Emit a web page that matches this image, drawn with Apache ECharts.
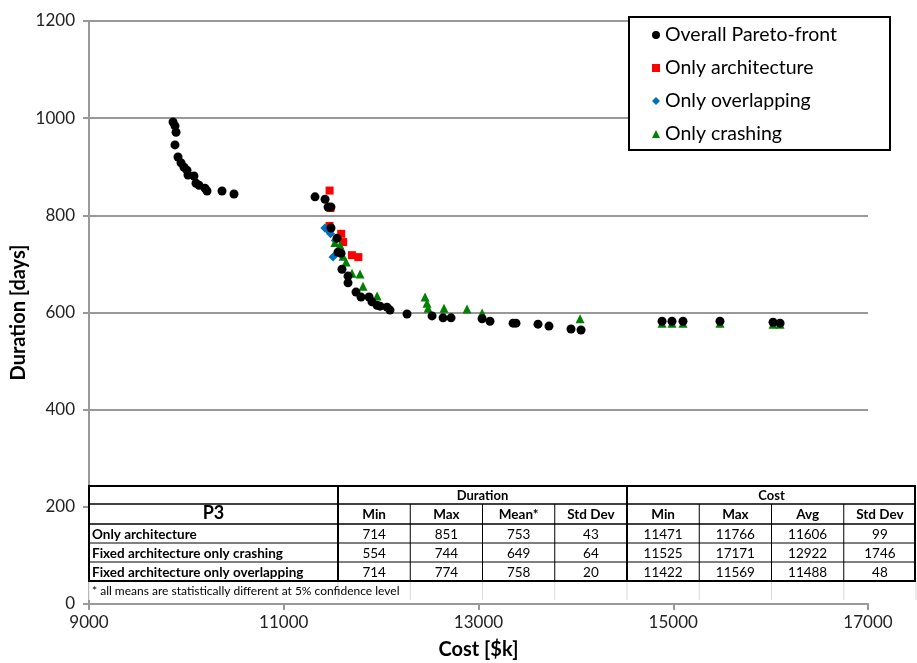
<!DOCTYPE html>
<html>
<head>
<meta charset="utf-8">
<script src="https://cdn.jsdelivr.net/npm/echarts@6/dist/echarts.min.js"></script>
<style>
html,body{margin:0;padding:0;background:#fff;}
#chart{width:917px;height:663px;}
</style>
</head>
<body>
<div id="chart"></div>
<script>
// ---- Data: [cost $k, duration days] ----
const paretoFront = [
  [9863,992],[9883,984],[9894,971],[9883,945],[9914,920],[9945,908],[9976,899],[10006,893],
  [10017,883],[10078,881],[10099,866],[10130,862],[10191,856],[10212,850],[10366,850],[10489,844],
  [11321,838],[11424,833],[11455,817],[11485,817],[11485,774],[11547,753],[11557,724],[11588,722],
  [11598,689],[11660,675],[11660,661],[11742,642],[11793,632],[11876,632],[11906,622],[11958,615],
  [11989,613],[12060,611],[12091,605],[12266,597],[12523,593],[12636,589],[12718,589],[13037,587],
  [13118,582],[13355,578],[13385,578],[13611,576],[13724,572],[13950,566],[14053,564],
  [14885,582],[14987,582],[15100,582],[15480,582],[16025,580],[16097,578]
];
const onlyArchitecture = [
  [11471,851],[11480,815],[11470,778],[11590,762],[11610,745],[11700,718],[11766,714]
];
const onlyOverlapping = [
  [11422,774],[11450,770],[11480,762],[11530,748],[11506,714]
];
const onlyCrashing = [
  [11525,744],[11578,739],[11609,716],[11640,704],[11701,681],[11783,679],[11814,654],[11958,634],
  [12451,632],[12471,619],[12482,609],[12646,609],[12882,607],[13037,599],[14043,587],
  [14885,578],[14987,578],[15100,578],[15480,578],[16025,576],[16097,576]
];
const seriesNames = ['Overall Pareto-front','Only architecture','Only overlapping','Only crashing'];

// ---- Table content ----
const tableTitle = 'P3';
const groupHeaders = ['Duration','Cost'];
const subHeaders = ['Min','Max','Mean*','Std Dev','Min','Max','Avg','Std Dev'];
const rowLabels = ['Only architecture','Fixed architecture only crashing','Fixed architecture only overlapping'];
const rowOnlyArchitecture = ['714','851','753','43','11471','11766','11606','99'];
const rowOnlyCrashing = ['554','744','649','64','11525','17171','12922','1746'];
const rowOnlyOverlapping = ['714','774','758','20','11422','11569','11488','48'];
const footnote = '* all means are statistically different at 5% confidence level';

const FONT = "Lato, 'Liberation Sans', sans-serif";
const chart = echarts.init(document.getElementById('chart'));

// Table graphics
const T = {x0:89, x1:915, colSplit:338, colW:72.25, yTop:486, yH1:504, yH2:524, rowH:19};
const tableRows = [rowOnlyArchitecture, rowOnlyCrashing, rowOnlyOverlapping];
const g = [];
const Z = 20;
const yBody = T.yH2 + tableRows.length*T.rowH; // 581
const yFoot = yBody + T.rowH; // 600
g.push({type:'rect', z:Z, shape:{x:T.x0, y:T.yTop, width:T.x1-T.x0, height:yFoot-T.yTop}, style:{fill:'#fff', stroke:null}});
for (let i=0;i<=subHeaders.length;i++){
  const x = T.colSplit + i*T.colW;
  g.push({type:'line', z:Z+1, shape:{x1:x,y1:yBody,x2:x,y2:yFoot}, style:{stroke:'#d9d9d9', lineWidth:1}});
}
g.push({type:'line', z:Z+1, shape:{x1:T.x0,y1:yBody,x2:T.x0,y2:yFoot}, style:{stroke:'#d9d9d9', lineWidth:1}});
g.push({type:'line', z:Z+2, shape:{x1:T.x0,y1:T.yH1,x2:T.x1,y2:T.yH1}, style:{stroke:'#000', lineWidth:1.5}});
g.push({type:'line', z:Z+2, shape:{x1:T.x0,y1:T.yH2,x2:T.x1,y2:T.yH2}, style:{stroke:'#000', lineWidth:1.5}});
for (let r=1;r<tableRows.length;r++){
  const y = T.yH2 + r*T.rowH;
  g.push({type:'line', z:Z+2, shape:{x1:T.x0,y1:y,x2:T.x1,y2:y}, style:{stroke:'#000', lineWidth:1}});
}
for (let i=1;i<subHeaders.length;i++){
  const x = T.colSplit + i*T.colW;
  const thick = (i===4);
  g.push({type:'line', z:Z+2, shape:{x1:x,y1:thick?T.yTop:T.yH1,x2:x,y2:yBody}, style:{stroke:'#000', lineWidth:thick?2:1}});
}
g.push({type:'line', z:Z+2, shape:{x1:T.colSplit,y1:T.yTop,x2:T.colSplit,y2:yBody}, style:{stroke:'#000', lineWidth:2}});
g.push({type:'rect', z:Z+3, shape:{x:T.x0, y:T.yTop, width:T.x1-T.x0, height:yBody-T.yTop}, style:{fill:null, stroke:'#000', lineWidth:2}});
const txt = (s,x,y,opt) => g.push({type:'text', z:Z+4, x:x, y:y, style:Object.assign({text:s, fill:'#000', font:'13.5px '+FONT, align:'center', verticalAlign:'middle'}, opt||{})});
txt(groupHeaders[0], T.colSplit+2*T.colW, (T.yTop+T.yH1)/2+1, {font:'bold 13px '+FONT});
txt(groupHeaders[1], T.colSplit+6*T.colW, (T.yTop+T.yH1)/2+1, {font:'bold 13px '+FONT});
txt(tableTitle, (T.x0+T.colSplit)/2, 513, {font:'bold 18px '+FONT});
subHeaders.forEach((s,i)=>txt(s, T.colSplit+(i+0.5)*T.colW, (T.yH1+T.yH2)/2+1, {font:'bold 13.5px '+FONT}));
rowLabels.forEach((s,r)=>{
  const yc = T.yH2 + (r+0.5)*T.rowH + 1;
  txt(s, T.x0+3, yc, {font:'bold 13.5px '+FONT, align:'left'});
  tableRows[r].forEach((v,i)=>txt(v, T.colSplit+(i+0.5)*T.colW, yc, {font:'13.5px '+FONT}));
});
txt(footnote, T.x0+3, yBody+T.rowH/2+1, {font:'12px '+FONT, align:'left'});

// Legend box
g.push({type:'rect', z:30, shape:{x:629, y:17, width:261, height:133}, style:{fill:'#fff', stroke:'#000', lineWidth:2}});

const option = {
  animation:false,
  backgroundColor:'#fff',
  grid:{left:89, right:49, top:21, bottom:59, containLabel:false, outerBoundsMode:'none'},
  xAxis:{
    type:'value', min:9000, max:17000, interval:2000,
    name:'Cost [$k]', nameLocation:'middle', nameGap:36, nameMoveOverlap:false,
    nameTextStyle:{fontFamily:FONT, fontWeight:'bold', fontSize:20, color:'#000'},
    axisLine:{onZero:false, lineStyle:{color:'#999', width:2}},
    axisTick:{show:true, inside:false, length:6, lineStyle:{color:'#999', width:2}},
    axisLabel:{fontFamily:FONT, fontSize:17, color:'#222', margin:10, formatter:v=>String(v)},
    splitLine:{show:false}
  },
  yAxis:{
    type:'value', min:0, max:1200, interval:200,
    name:'Duration [days]', nameLocation:'middle', nameGap:60, nameRotate:90, nameMoveOverlap:false,
    nameTextStyle:{fontFamily:FONT, fontWeight:'bold', fontSize:20, color:'#000'},
    axisLine:{show:true, onZero:false, lineStyle:{color:'#999', width:2}},
    axisTick:{show:true, inside:false, length:6, lineStyle:{color:'#999', width:2}},
    axisLabel:{fontFamily:FONT, fontSize:17, color:'#222', margin:14, formatter:v=>String(v)},
    splitLine:{show:true, lineStyle:{color:'#999', width:2}}
  },
  legend:{
    orient:'vertical', left:647, top:20, z:40,
    itemWidth:8, itemHeight:8, itemGap:13,
    data:[
      {name:seriesNames[0], icon:'circle'},
      {name:seriesNames[1], icon:'rect'},
      {name:seriesNames[2], icon:'diamond'},
      {name:seriesNames[3], icon:'triangle'}
    ],
    textStyle:{fontFamily:FONT, fontSize:19.5, color:'#000', lineHeight:20, padding:[0,0,0,0]},
    selectedMode:false
  },
  graphic:{elements:g},
  series:[
    {name:seriesNames[1], type:'scatter', data:onlyArchitecture, symbol:'rect', symbolSize:8, itemStyle:{color:'#ff0000', opacity:1}, z:2},
    {name:seriesNames[2], type:'scatter', data:onlyOverlapping, symbol:'diamond', symbolSize:9, itemStyle:{color:'#0070c0', opacity:1}, z:3},
    {name:seriesNames[3], type:'scatter', data:onlyCrashing, symbol:'triangle', symbolSize:9, itemStyle:{color:'#008000', opacity:1}, z:4},
    {name:seriesNames[0], type:'scatter', data:paretoFront, symbol:'circle', symbolSize:9, itemStyle:{color:'#000', opacity:1}, z:5}
  ]
};
chart.setOption(option);
</script>
</body>
</html>
